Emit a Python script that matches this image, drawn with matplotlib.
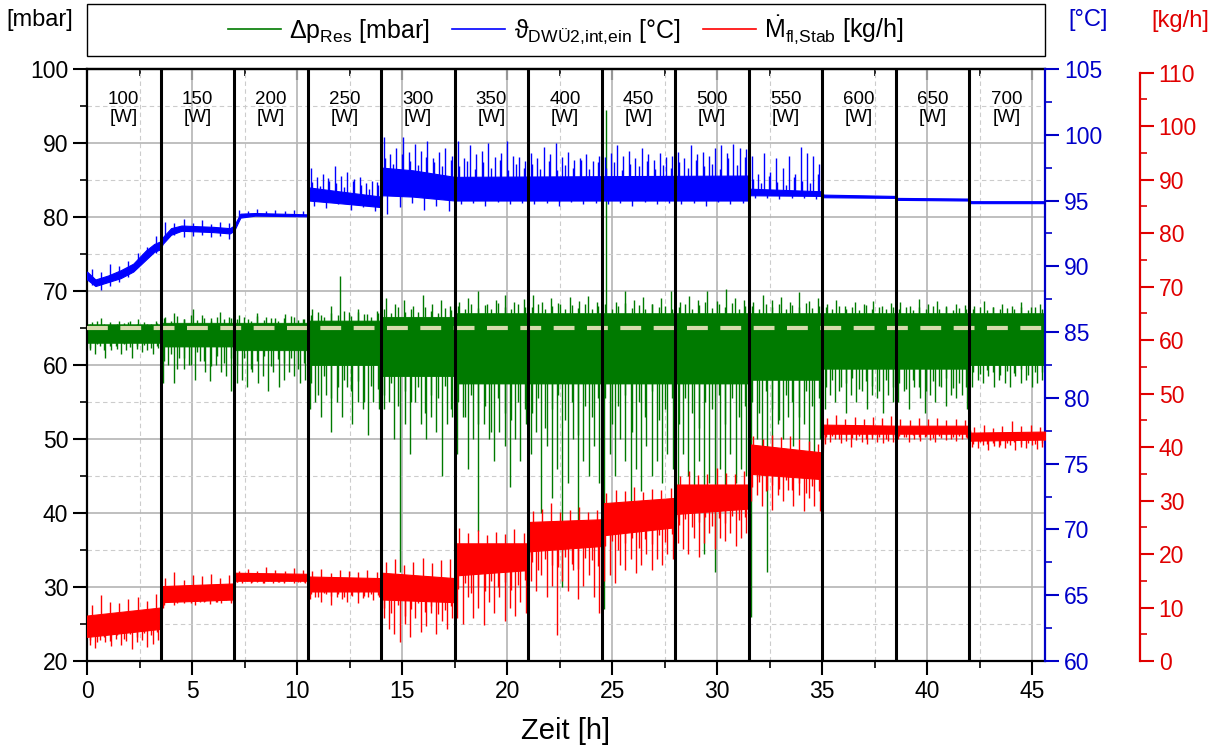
import numpy as np
import matplotlib
matplotlib.use("Agg")
import matplotlib.pyplot as plt
from matplotlib.ticker import MultipleLocator
from matplotlib.lines import Line2D
from matplotlib.patches import Rectangle

plt.rcParams['font.family'] = ['Liberation Sans', 'DejaVu Sans']
plt.rcParams['mathtext.fontset'] = 'custom'
plt.rcParams['mathtext.rm'] = 'Liberation Sans'
plt.rcParams['mathtext.it'] = 'Liberation Sans:italic'

# --- Stufen der Heizleistung ---
seg_edges = [0, 3.5, 7, 10.5, 14, 17.5, 21, 24.5, 28, 31.5, 35, 38.5, 42, 45.6]
power_labels = ["100", "150", "200", "250", "300", "350", "400", "450", "500", "550", "600", "650", "700"]

# --- Delta p (mbar): dichtes Band je Stufe + Ausreisser je Stufe ---
dp_lo = [63.0, 62.5, 62.0, 60.0, 58.5, 57.5, 57.5, 57.5, 57.5, 58.0, 59.5, 59.5, 60.0]
dp_hi = [65.5, 65.7, 65.7, 66.0, 66.5, 67.0, 67.0, 67.0, 67.0, 67.0, 67.0, 67.0, 67.0]
dp_down = [
    [62.0, 61.5, 62.5, 61.0, 62.0, 62.5, 61.5, 62.0, 61.0, 62.5, 61.8, 62.0, 61.5, 62.3],
    [57.5, 60.0, 57.5, 61.0, 59.5, 60.0, 58.0, 60.5, 59.0, 57.8, 60.0, 59.0, 58.5, 56.5],
    [57.5, 58.0, 57.0, 59.0, 57.5, 58.5, 56.5, 59.0, 57.0, 58.0, 59.0, 58.5, 57.5, 58.0],
    [54.0, 55.0, 53.0, 56.0, 51.0, 55.0, 53.0, 57.0, 52.0, 55.0, 54.0, 50.5, 55.0, 54.0],
    [54.0, 55.0, 50.0, 32.0, 52.0, 48.0, 55.0, 52.0, 50.0, 53.0, 51.0, 45.0, 52.0, 53.0],
    [48.0, 53.0, 46.0, 50.0, 37.5, 52.0, 50.0, 47.0, 51.0, 49.0, 43.5, 50.0, 47.0, 52.0],
    [48.0, 51.0, 40.0, 49.0, 42.0, 46.0, 30.0, 44.0, 50.0, 38.0, 47.0, 45.0, 49.0, 44.0],
    [27.0, 48.0, 45.0, 50.0, 47.0, 40.0, 46.0, 43.0, 49.0, 45.0, 47.0, 44.0, 48.0, 46.0],
    [43.0, 48.0, 45.0, 40.0, 47.0, 34.5, 44.0, 32.0, 46.0, 42.0, 48.0, 44.0, 46.0, 45.0],
    [26.0, 50.0, 45.0, 32.0, 48.0, 52.0, 50.0, 53.0, 49.0, 50.0, 52.0, 47.0, 45.0, 50.0],
    [54.0, 56.0, 55.0, 57.0, 53.5, 56.0, 55.0, 56.5, 54.0, 56.0, 55.5, 53.5, 56.0, 55.0],
    [55.0, 56.5, 54.0, 57.0, 55.5, 53.5, 56.0, 55.0, 57.0, 54.5, 56.0, 55.5, 56.0, 54.0],
    [57.0, 58.0, 57.5, 58.5, 57.0, 58.0, 57.5, 57.0, 58.5, 57.5, 58.0, 57.0, 57.5, 58.0],
]
dp_down2 = [
    [62.3, 62.8, 62.0, 62.6, 62.2, 62.9, 62.4, 62.1, 62.7, 62.3, 62.5],
    [60.5, 61.5, 59.5, 61.0, 60.0, 61.8, 60.5, 59.8, 61.2, 60.3, 61.0],
    [60.0, 61.0, 59.5, 60.5, 61.2, 59.8, 60.8, 60.2, 61.0, 59.5, 60.3],
    [57.5, 56.0, 58.5, 55.5, 57.0, 58.0, 56.5, 57.8, 55.0, 57.2, 56.8],
    [56.0, 57.5, 54.5, 56.5, 55.0, 57.0, 53.5, 56.0, 55.5, 57.2, 54.0],
    [55.0, 53.0, 56.0, 52.0, 54.5, 51.0, 55.5, 53.5, 52.5, 55.0, 54.0],
    [53.5, 55.5, 51.5, 54.0, 56.0, 52.5, 55.0, 50.5, 54.5, 53.0, 55.5],
    [55.5, 52.0, 54.5, 56.0, 51.0, 55.0, 53.0, 56.5, 52.5, 54.0, 55.5],
    [52.0, 55.5, 53.5, 51.5, 55.0, 54.0, 56.0, 52.0, 55.5, 53.0, 54.5],
    [55.0, 53.5, 56.5, 54.0, 52.5, 56.0, 55.0, 53.0, 56.5, 54.5, 55.5],
    [57.0, 58.0, 56.5, 57.5, 58.2, 56.8, 57.8, 57.2, 56.5, 58.0, 57.0],
    [57.5, 56.8, 58.0, 57.0, 56.5, 57.8, 57.2, 58.2, 56.9, 57.5, 57.0],
    [59.0, 58.8, 59.3, 59.0, 58.6, 59.2, 58.9, 59.4, 58.7, 59.1, 59.0],
]
dp_up = [
    [65.8, 66.3, 65.5, 66.0, 65.8, 66.2, 65.5, 65.9],
    [66.5, 67.0, 66.2, 67.5, 66.8, 66.3, 67.2, 66.5],
    [66.8, 66.2, 67.0, 66.5, 66.3, 66.9, 66.5, 66.2],
    [67.5, 66.8, 68.0, 72.0, 67.2, 67.5, 66.9, 67.3],
    [69.0, 68.2, 68.8, 68.0, 69.5, 68.3, 68.8, 68.0],
    [68.5, 69.0, 70.0, 68.3, 68.8, 69.5, 68.5, 68.9],
    [69.5, 68.5, 69.0, 68.2, 69.2, 68.7, 69.3, 68.5],
    [94.5, 68.5, 70.0, 68.8, 69.2, 68.3, 69.0, 70.0],
    [68.5, 69.3, 68.8, 70.0, 68.6, 70.2, 69.0, 68.8],
    [68.5, 69.5, 68.8, 69.2, 68.5, 69.8, 68.7, 69.0],
    [68.3, 68.8, 68.0, 68.5, 68.2, 68.6, 68.0, 68.4],
    [68.5, 68.0, 68.9, 68.2, 68.6, 68.0, 68.3, 68.1],
    [68.0, 68.6, 67.8, 68.3, 68.0, 68.5, 67.9, 68.2],
]
dp_up2 = [
    [65.6, 65.9, 65.5, 65.8, 65.6, 65.7, 65.9, 65.5, 65.8, 65.6, 65.7],
    [66.3, 66.0, 66.6, 66.2, 66.8, 66.1, 66.4, 66.0, 66.5, 66.2, 66.3],
    [66.2, 66.5, 66.0, 66.6, 66.1, 66.4, 66.0, 66.3, 66.6, 66.1, 66.2],
    [66.8, 67.2, 66.5, 67.0, 66.7, 67.3, 66.6, 67.1, 66.9, 66.5, 67.0],
    [67.5, 67.0, 67.8, 67.2, 67.6, 67.1, 67.9, 67.3, 67.0, 67.7, 67.4],
    [68.0, 67.5, 68.3, 67.7, 68.1, 67.6, 68.4, 67.8, 67.5, 68.2, 67.9],
    [67.8, 68.3, 67.5, 68.0, 68.4, 67.6, 68.1, 67.7, 68.3, 67.6, 68.0],
    [68.2, 67.6, 68.0, 68.4, 67.7, 68.1, 67.5, 68.3, 67.8, 68.0, 67.6],
    [67.9, 68.3, 67.6, 68.1, 68.5, 67.7, 68.2, 67.8, 68.4, 67.6, 68.0],
    [68.0, 67.6, 68.3, 67.8, 68.2, 67.5, 68.1, 67.9, 68.4, 67.7, 68.0],
    [67.8, 67.5, 68.0, 67.6, 67.9, 67.4, 68.1, 67.6, 67.8, 67.5, 67.9],
    [67.6, 67.9, 67.4, 67.8, 67.5, 68.0, 67.6, 67.9, 67.4, 67.7, 67.6],
    [67.5, 67.8, 67.4, 67.9, 67.6, 67.7, 67.5, 67.9, 67.4, 67.8, 67.6],
]
dp_ref = 65.0

# --- Temperatur (°C): Band an Stuetzstellen + Ausreisser je Stufe ---
th_t = [0.0, 0.4, 1.0, 1.6, 2.2, 2.8, 3.2, 3.5, 3.6, 4.0, 4.5, 6.0, 6.8, 7.0, 7.3, 8.0, 10.5,
        10.55, 12.0, 14.0, 14.05, 15.5, 17.5, 31.5, 31.55, 35.0, 35.05, 38.5, 38.55, 42.0, 42.05, 45.6]
th_lo = [89.0, 88.5, 88.8, 89.1, 89.6, 90.5, 91.1, 91.3, 91.7, 92.4, 92.7, 92.6, 92.5, 92.7, 93.7, 93.85, 93.8,
         95.0, 94.8, 94.5, 95.4, 95.3, 95.0, 95.0, 95.4, 95.35, 95.25, 95.2, 95.05, 95.0, 94.8, 94.8]
th_hi = [89.6, 89.0, 89.3, 89.7, 90.2, 91.2, 91.7, 91.9, 92.2, 92.9, 93.1, 93.0, 92.9, 93.1, 94.0, 94.05, 93.95,
         96.0, 95.7, 95.3, 97.5, 97.3, 96.8, 96.9, 95.9, 95.7, 95.45, 95.35, 95.2, 95.15, 94.95, 94.95]
th_up = [
    [89.8, 89.6, 90.2, 90.0, 90.4, 91.0, 91.5, 92.3],
    [93.4, 93.3, 93.6, 93.3, 93.5, 93.2, 93.4, 93.3],
    [94.3, 94.2, 94.35, 94.2, 94.25, 94.2, 94.3, 94.2],
    [97.5, 96.8, 97.0, 96.5, 97.6, 96.9, 97.2, 96.6, 96.8, 96.3, 96.5, 96.2],
    [99.8, 98.5, 99.0, 99.8, 98.7, 99.3, 98.8, 99.5, 98.2, 98.7, 99.0, 98.4],
    [99.5, 98.2, 99.2, 98.5, 98.8, 99.4, 98.3, 98.6, 99.5, 98.4, 98.3, 98.0],
    [98.6, 98.2, 99.1, 98.5, 99.4, 98.3, 98.7, 98.1, 98.2, 98.5, 98.0, 98.4],
    [98.3, 98.6, 99.2, 98.4, 98.8, 98.2, 99.0, 98.5, 98.1, 98.6, 98.3, 98.4],
    [98.7, 98.2, 99.2, 98.5, 98.7, 98.4, 99.0, 99.2, 98.6, 99.3, 99.0, 98.9],
    [98.4, 97.0, 98.6, 97.2, 98.2, 97.5, 98.4, 97.0, 99.1, 98.6, 98.4, 97.8],
    [], [], [],
]
th_up2 = [
    [], [], [],
    [96.4, 96.1, 96.7, 96.3, 96.0, 96.5, 96.2, 95.9, 96.4],
    [98.2, 97.8, 98.5, 98.0, 97.7, 98.3, 97.9, 97.6, 98.1],
    [97.6, 98.0, 97.4, 97.9, 97.5, 98.1, 97.3, 97.8, 97.5],
    [97.8, 97.4, 98.0, 97.3, 97.7, 97.5, 98.1, 97.4, 97.9],
    [97.5, 97.9, 97.3, 97.8, 97.6, 98.0, 97.4, 97.7, 97.5],
    [97.9, 97.5, 98.1, 97.6, 97.8, 97.4, 98.2, 97.7, 98.3],
    [96.6, 96.3, 96.9, 96.4, 96.2, 96.8, 96.5, 96.3, 97.0],
    [], [], [],
]
th_down = [
    [88.6, 88.2, 88.5, 88.8, 89.2, 90.0, 90.8, 91.0],
    [92.3, 92.4, 92.2, 92.3, 92.4, 92.2, 92.3, 92.1],
    [],
    [94.6, 94.4, 94.7, 94.3, 94.5, 94.2],
    [94.0, 94.5, 94.8, 94.3, 94.6, 94.2],
    [94.7, 94.8, 94.6, 94.9, 94.7, 94.8],
    [94.7, 94.8, 94.6, 94.9, 94.7, 94.8],
    [94.7, 94.8, 94.6, 94.9, 94.7, 94.8],
    [94.7, 94.8, 94.6, 94.9, 94.7, 94.8],
    [95.2, 95.2, 95.1, 95.2, 95.2, 95.1],
    [], [], [],
]

# --- Massenstrom (kg/h): Band an Stuetzstellen + Ausreisser je Stufe ---
m_t = [0.0, 3.5, 3.55, 7.0, 7.05, 10.5, 10.55, 14.0, 14.05, 17.5, 17.55, 21.0, 21.05, 24.5, 24.55, 28.0,
       28.05, 31.5, 31.55, 35.0, 35.05, 38.5, 38.55, 42.0, 42.05, 45.6]
m_lo = [4.5, 6.0, 11.0, 11.5, 15.0, 15.0, 13.0, 13.0, 11.5, 11.0, 16.0, 17.0, 20.5, 21.5, 23.5, 25.0,
        27.5, 28.5, 35.0, 34.0, 42.5, 42.5, 42.5, 42.5, 41.2, 41.4]
m_hi = [8.5, 10.0, 14.0, 14.5, 16.5, 16.3, 15.8, 15.5, 16.5, 15.5, 22.0, 22.0, 26.0, 26.5, 29.5, 30.5,
        33.0, 33.0, 40.5, 39.0, 44.2, 44.0, 44.0, 44.0, 42.7, 42.9]
m_down = [
    [3.0, 2.5, 4.0, 3.5, 2.8, 4.2, 3.0, 3.8, 2.3, 3.5, 4.0, 2.6, 3.2, 4.0],
    [10.0, 11.0, 10.5, 11.2, 10.8, 11.5, 10.5, 11.0, 11.3, 10.6, 11.0, 10.8, 11.4, 10.9],
    [14.8, 14.5, 15.0, 14.7, 14.9, 14.6, 15.0, 14.5, 14.8, 14.7, 15.0, 14.6, 14.8, 14.5],
    [11.5, 12.0, 11.0, 12.5, 10.5, 12.0, 11.5, 11.0, 12.2, 10.8, 11.8, 12.0, 11.4, 11.9],
    [8.0, 6.0, 5.0, 3.6, 7.0, 4.5, 8.0, 5.5, 6.5, 9.0, 5.0, 7.5, 6.0, 8.0],
    [8.0, 7.0, 12.0, 8.0, 10.0, 6.7, 11.0, 9.0, 12.0, 7.5, 10.0, 8.5, 11.0, 9.0],
    [15.0, 13.0, 16.0, 12.0, 14.0, 4.9, 15.0, 13.0, 17.0, 11.5, 14.0, 16.0, 12.0, 9.0],
    [15.0, 16.0, 14.6, 18.0, 17.0, 19.0, 16.5, 18.0, 20.0, 17.0, 19.0, 18.0, 20.0, 19.0],
    [22.0, 21.0, 20.0, 23.0, 19.5, 22.0, 24.0, 21.0, 23.0, 22.5, 24.0, 21.5, 23.0, 24.0],
    [30.0, 31.0, 29.0, 32.0, 28.3, 31.0, 30.0, 32.0, 29.0, 31.0, 28.0, 30.5, 29.0, 28.0],
    [40.5, 41.0, 41.5, 40.8, 41.2, 40.0, 41.3, 41.0, 40.6, 41.5, 41.0, 40.8, 41.2, 41.0],
    [41.5, 41.8, 41.0, 41.6, 41.2, 41.8, 41.4, 41.0, 41.7, 41.3, 41.6, 41.2, 41.5, 41.7],
    [40.0, 39.8, 40.3, 39.5, 40.2, 40.0, 39.8, 40.4, 39.5, 40.1, 39.8, 40.3, 39.6, 40.0],
]
m_down2 = [
    [4.0, 3.6, 4.5, 3.8, 4.8, 4.2, 5.0, 4.4, 5.3, 4.9, 5.5],
    [10.5, 11.2, 10.8, 11.5, 10.9, 11.3, 11.0, 11.6, 11.1, 11.4, 11.2],
    [14.7, 14.9, 14.6, 14.8, 14.5, 14.9, 14.7, 14.6, 14.9, 14.7, 14.8],
    [12.5, 12.0, 12.8, 12.2, 12.6, 11.9, 12.4, 12.7, 12.1, 12.5, 12.3],
    [10.0, 9.0, 10.5, 8.5, 9.8, 10.8, 9.2, 10.3, 8.8, 9.6, 10.2],
    [13.5, 14.5, 12.8, 14.0, 13.0, 15.0, 13.8, 14.8, 13.2, 14.3, 15.2],
    [18.5, 17.0, 19.0, 18.0, 17.5, 19.5, 18.2, 17.2, 19.2, 18.8, 17.8],
    [21.5, 22.5, 20.8, 22.0, 23.0, 21.2, 22.8, 21.8, 23.5, 22.2, 23.8],
    [25.5, 26.5, 25.0, 26.0, 27.0, 25.3, 26.8, 25.8, 27.2, 26.3, 27.0],
    [32.5, 33.5, 31.8, 33.0, 32.2, 33.8, 32.0, 33.2, 31.5, 32.8, 31.8],
    [41.8, 42.0, 41.5, 42.2, 41.7, 42.0, 41.6, 42.1, 41.8, 41.5, 42.0],
    [42.0, 41.8, 42.2, 41.9, 42.1, 41.7, 42.0, 42.2, 41.8, 42.0, 41.9],
    [40.6, 40.9, 40.5, 40.8, 40.4, 40.7, 40.9, 40.5, 40.8, 40.6, 40.7],
]
m_up = [
    [10.5, 12.3, 11.0, 10.8, 11.5, 12.0, 11.2, 12.5],
    [15.5, 16.6, 15.2, 16.0, 15.8, 16.3, 15.5, 16.0],
    [16.9, 17.2, 16.8, 17.5, 17.0, 16.9, 17.3, 17.0],
    [16.8, 17.2, 16.5, 17.0, 16.9, 16.6, 17.1, 16.7],
    [18.5, 19.0, 18.0, 18.5, 19.2, 18.3, 18.8, 19.0],
    [24.9, 24.0, 24.5, 23.5, 24.2, 23.8, 24.6, 24.0],
    [28.0, 28.5, 29.5, 27.8, 28.2, 28.8, 27.9, 28.3],
    [31.5, 32.0, 31.8, 32.5, 31.6, 32.2, 31.9, 32.3],
    [34.5, 35.5, 34.8, 35.0, 36.0, 35.2, 34.9, 35.5],
    [42.0, 41.5, 42.3, 41.8, 42.0, 41.6, 41.2, 40.5],
    [45.5, 46.0, 45.3, 45.7, 45.2, 45.6, 45.4, 45.8],
    [45.3, 45.0, 45.5, 45.2, 45.4, 45.0, 45.3, 45.1],
    [43.8, 44.2, 43.6, 44.0, 44.8, 43.9, 44.1, 43.7],
]

c_dp = '#007a00'
c_th = '#0000ff'
c_m = '#ff0000'
c_th_ax = '#0000c8'
c_m_ax = '#e00000'


def draw_spikes(axis, spikes, t_knots, lo, hi, color):
    # Ausreisser gleichmaessig in jeder Stufe verteilt, ausgehend von der Bandmitte
    mid = (np.array(lo) + np.array(hi)) / 2
    for i, vals in enumerate(spikes):
        if not vals:
            continue
        a, b = seg_edges[i], seg_edges[i + 1]
        n = len(vals)
        ts = a + (np.arange(n) + 0.5) / n * (b - a)
        axis.vlines(ts, np.interp(ts, t_knots, mid), vals, color=color, lw=1.0)


fig = plt.figure(figsize=(12.17, 7.53), dpi=100)
ax = fig.add_axes([0.0715, 0.1222, 0.8587 - 0.0715, 0.9084 - 0.1222])
ax_t = ax.twinx()
ax_m = ax.twinx()
ax_m.spines['right'].set_position(('axes', 1.099))

# Gitter
ax.set_axisbelow(True)
ax.grid(which='major', color='#b4b4b4', lw=1.2, ls='-')
ax.grid(which='minor', color='#cccccc', lw=0.8, ls=(0, (4, 3)))

# Delta p (Band als Stufenfunktion)
dp_t, dp_l, dp_h = [], [], []
for i in range(len(dp_lo)):
    dp_t += [seg_edges[i], seg_edges[i + 1] - 0.01]
    dp_l += [dp_lo[i], dp_lo[i]]
    dp_h += [dp_hi[i], dp_hi[i]]
ax.fill_between(dp_t, dp_l, dp_h, color=c_dp, lw=0.6, edgecolor=c_dp)
for sp in (dp_down, dp_down2, dp_up, dp_up2):
    draw_spikes(ax, sp, dp_t, dp_l, dp_h, c_dp)
ax.axhline(dp_ref, color='#d6dbac', lw=3, ls=(0, (5, 3)), zorder=3)

# Temperatur
ax_t.fill_between(th_t, th_lo, th_hi, color=c_th, lw=0.8, edgecolor=c_th)
for sp in (th_up, th_up2, th_down):
    draw_spikes(ax_t, sp, th_t, th_lo, th_hi, c_th)

# Massenstrom
ax_m.fill_between(m_t, m_lo, m_hi, color=c_m, lw=0.8, edgecolor=c_m)
for sp in (m_down, m_down2, m_up):
    draw_spikes(ax_m, sp, m_t, m_lo, m_hi, c_m)

# Stufengrenzen
for x in seg_edges[1:-1]:
    ax_m.axvline(x, color='black', lw=2.2, zorder=5)

for i, lab in enumerate(power_labels):
    xc = (seg_edges[i] + seg_edges[i + 1]) / 2
    ax.text(xc, 94.7, lab + "\n[W]", ha='center', va='center', fontsize=13.5, linespacing=1.05)

# Achsen
ax.set_xlim(0, 45.6)
ax.set_ylim(20, 100)
ax.xaxis.set_major_locator(MultipleLocator(5))
ax.xaxis.set_minor_locator(MultipleLocator(2.5))
ax.yaxis.set_major_locator(MultipleLocator(10))
ax.yaxis.set_minor_locator(MultipleLocator(5))
ax.tick_params(which='major', direction='out', length=10, width=1.5, labelsize=16.5)
ax.tick_params(which='minor', direction='out', length=5, width=1.2)
ax.set_xlabel("Zeit [h]", fontsize=21, labelpad=10)
for s in ['left', 'bottom', 'top']:
    ax.spines[s].set_linewidth(1.6)
ax.spines['right'].set_visible(False)

top = ax.secondary_xaxis('top')
top.xaxis.set_major_locator(MultipleLocator(5))
top.xaxis.set_minor_locator(MultipleLocator(2.5))
top.tick_params(which='major', direction='in', length=8, width=1.5, labeltop=False)
top.tick_params(which='minor', direction='in', length=5, width=1.2)
top.spines['top'].set_linewidth(1.6)

ax_t.set_ylim(60, 105)
ax_t.yaxis.set_major_locator(MultipleLocator(5))
ax_t.yaxis.set_minor_locator(MultipleLocator(2.5))
ax_t.tick_params(which='major', direction='out', length=10, width=1.5, colors=c_th_ax, labelsize=16.5)
ax_t.tick_params(which='minor', direction='out', length=5, width=1.2, colors=c_th_ax)
ax_t.spines['right'].set_color(c_th_ax)
ax_t.spines['right'].set_linewidth(1.6)
for s in ['left', 'top', 'bottom']:
    ax_t.spines[s].set_visible(False)

ax_m.set_ylim(0, 110.7)
ax_m.set_yticks(np.arange(0, 111, 10))
ax_m.set_yticks(np.arange(5, 110, 10), minor=True)
ax_m.tick_params(which='major', direction='out', length=10, width=1.5, colors=c_m_ax, labelsize=16.5)
ax_m.tick_params(which='minor', direction='out', length=5, width=1.2, colors=c_m_ax)
ax_m.spines['right'].set_color(c_m_ax)
ax_m.spines['right'].set_linewidth(1.6)
ax_m.spines['right'].set_bounds(0, 110)
for s in ['left', 'top', 'bottom']:
    ax_m.spines[s].set_visible(False)

# Einheiten
fig.text(6 / 1217, 1 - 20 / 753, "[mbar]", fontsize=17, va='center', ha='left')
fig.text(1088 / 1217, 1 - 20 / 753, "[°C]", fontsize=17, va='center', ha='center', color=c_th_ax)
fig.text(1180 / 1217, 1 - 21 / 753, "[kg/h]", fontsize=17, va='center', ha='center', color=c_m_ax)

# Legende
fig.patches.append(Rectangle((87 / 1217, 1 - 56 / 753), (1045 - 87) / 1217, 52 / 753,
                             transform=fig.transFigure, fill=False, edgecolor='black', lw=1.0))
handles = [Line2D([], [], color=c_dp, lw=1.2), Line2D([], [], color=c_th, lw=1.2),
           Line2D([], [], color=c_m, lw=1.2)]
labels = [r'$\Delta\mathrm{p}_{\mathrm{Res}}$ [mbar]',
          'ϑ$_{\\mathrm{DWÜ2{,}int{,}ein}}$ [°C]',
          r'$\dot{\mathrm{M}}_{\mathrm{fl{,}Stab}}$ [kg/h]']
fig.legend(handles, labels, loc='center', bbox_to_anchor=(566 / 1217, 1 - 30 / 753), ncol=3,
           frameon=False, fontsize=18, handlelength=2.1, columnspacing=0.9, handletextpad=0.35)

fig.savefig("out.png", dpi=100)
